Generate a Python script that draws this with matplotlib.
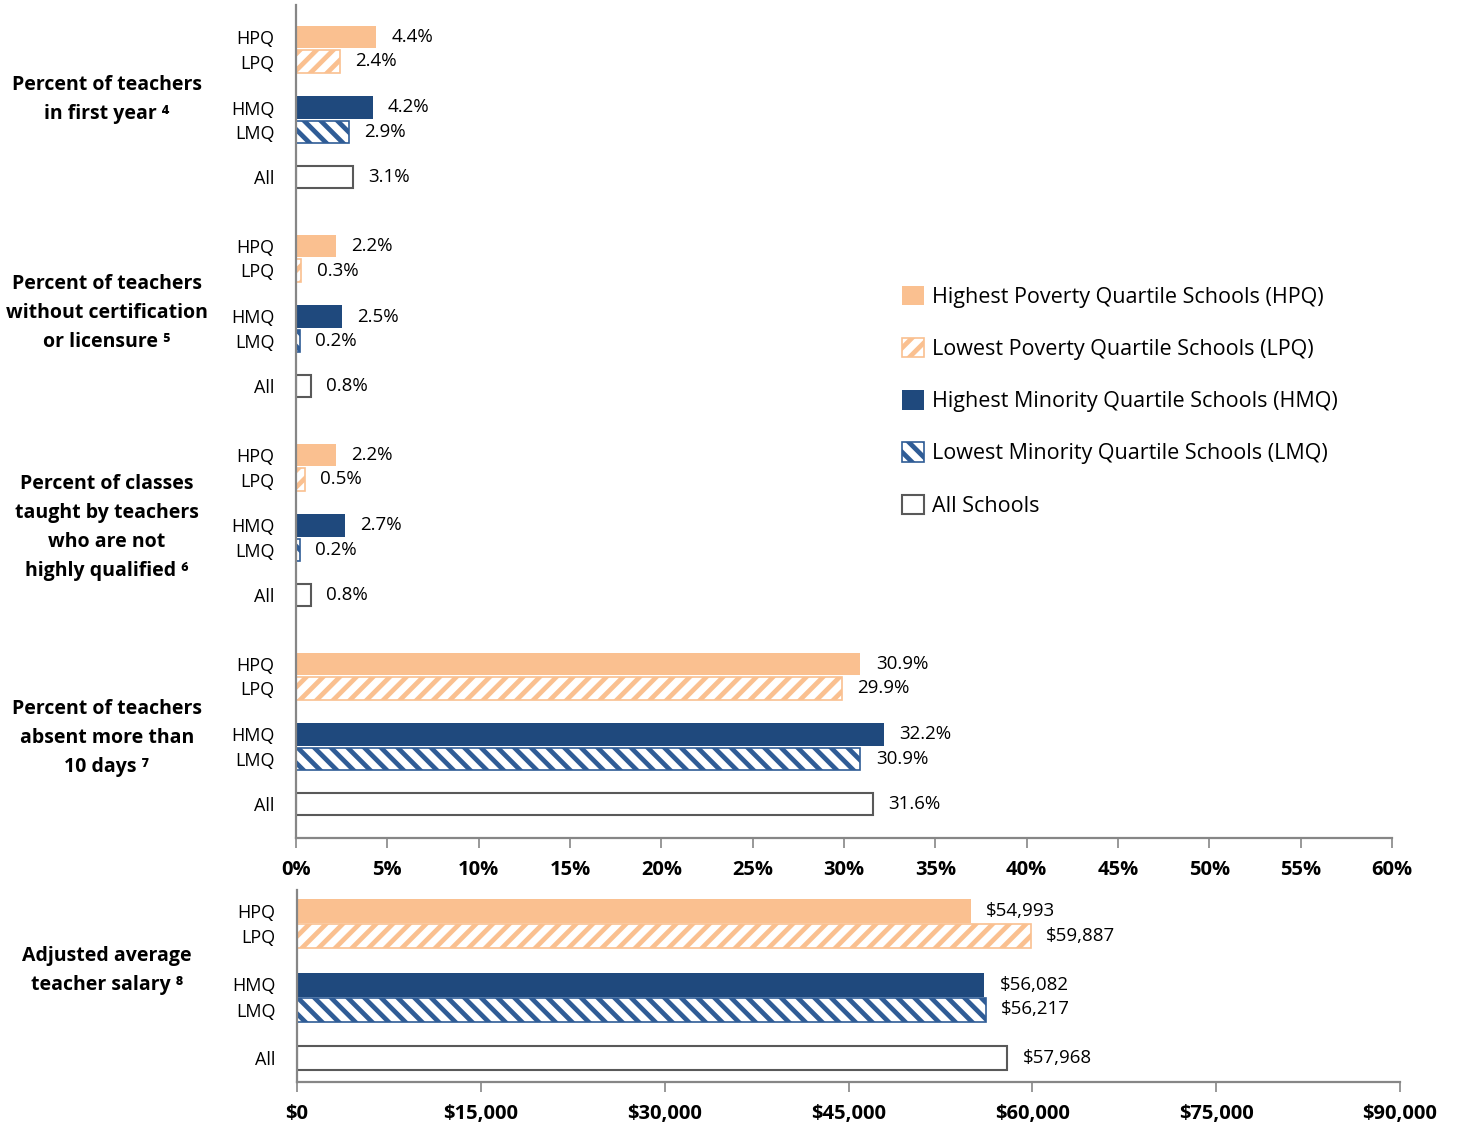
import numpy as np
import matplotlib
matplotlib.use('Agg')
import matplotlib.pyplot as plt
from matplotlib.patches import Patch

plt.rcParams['font.family'] = ['Open Sans', 'DejaVu Sans']
plt.rcParams['hatch.linewidth'] = 3.4

# data
cats = ['HPQ', 'LPQ', 'HMQ', 'LMQ', 'All']
group_titles = ['Percent of teachers\nin first year \u2074',
                'Percent of teachers\nwithout certification\nor licensure \u2075',
                'Percent of classes\ntaught by teachers\nwho are not\nhighly qualified \u2076',
                'Percent of teachers\nabsent more than\n10 days \u2077']
pct_values = [[4.4, 2.4, 4.2, 2.9, 3.1],
              [2.2, 0.3, 2.5, 0.2, 0.8],
              [2.2, 0.5, 2.7, 0.2, 0.8],
              [30.9, 29.9, 32.2, 30.9, 31.6]]
salary_title = 'Adjusted average\nteacher salary \u2078'
salary_values = [54993, 59887, 56082, 56217, 57968]
legend_labels = ['Highest Poverty Quartile Schools (HPQ)',
                 'Lowest Poverty Quartile Schools (LPQ)',
                 'Highest Minority Quartile Schools (HMQ)',
                 'Lowest Minority Quartile Schools (LMQ)',
                 'All Schools']

orange = '#FAC090'
navy = '#1F497D'
blue = '#2F5C96'
gray = '#595959'
spine = '#868686'

styles = [dict(facecolor=orange, edgecolor=orange, linewidth=0),
          dict(facecolor='white', edgecolor=orange, hatch='//', linewidth=1.2),
          dict(facecolor=navy, edgecolor=navy, linewidth=0),
          dict(facecolor='white', edgecolor=blue, hatch='\\\\', linewidth=1.2),
          dict(facecolor='white', edgecolor=gray, linewidth=1.5)]

W, H = 1458, 1126
fig = plt.figure(figsize=(W / 100, H / 100), dpi=100)

def fr(x0, x1, y0, y1):
    return [x0 / W, 1 - y1 / H, (x1 - x0) / W, (y1 - y0) / H]

ax1 = fig.add_axes(fr(296, 1392, 5, 838))
ax2 = fig.add_axes(fr(297, 1400, 890, 1082))

def style_axis(ax):
    for s in ['top', 'right']:
        ax.spines[s].set_visible(False)
    for s in ['left', 'bottom']:
        ax.spines[s].set_color(spine)
        ax.spines[s].set_linewidth(1.6)
    ax.tick_params(axis='x', direction='out', length=7, width=1.2, color=spine,
                   pad=9, labelsize=14.5)
    ax.tick_params(axis='y', length=0, pad=15.5, labelsize=13)
    for t in ax.get_xticklabels():
        t.set_fontweight('bold')

# top panel (pixel-like layout units)
offsets = np.array([0, 24.5, 70.5, 95, 140])
group_starts = [37, 246, 455, 664]
title_shift = [-7, -3, 3, 4]
bar_h = 22.5
yt, yl = [], []
for g, vals in enumerate(pct_values):
    ys = group_starts[g] + offsets
    for i, (y, v) in enumerate(zip(ys, vals)):
        ax1.barh(y, v, height=bar_h, **styles[i])
        ax1.annotate(f'{v:.1f}%', (v, y), xytext=(11, 0), textcoords='offset points',
                     va='center', ha='left', fontsize=13.5)
        yt.append(y)
        yl.append(cats[i])
    ax1.text(-0.1725, (ys[0] + ys[-1]) / 2 + title_shift[g], group_titles[g],
             transform=ax1.get_yaxis_transform(),
             ha='center', va='center', fontsize=14, fontweight='bold', linespacing=1.6)
ax1.set_xlim(0, 60)
ax1.set_ylim(838, 5)
ax1.set_xticks(np.arange(0, 61, 5))
ax1.set_xticklabels([f'{t}%' for t in range(0, 61, 5)])
ax1.set_yticks(yt)
ax1.set_yticklabels(yl)
style_axis(ax1)

# salary panel
s_offsets = np.array([0, 25, 73.5, 98.5, 147])
ys = 911 + s_offsets
for i, (y, v) in enumerate(zip(ys, salary_values)):
    ax2.barh(y, v, height=24, **styles[i])
    ax2.annotate(f'${v:,}', (v, y), xytext=(11, 0), textcoords='offset points',
                 va='center', ha='left', fontsize=13.5)
ax2.text(-0.172, (ys[0] + ys[-1]) / 2 - 14, salary_title, transform=ax2.get_yaxis_transform(),
         ha='center', va='center', fontsize=14, fontweight='bold', linespacing=1.6)
ax2.set_xlim(0, 90000)
ax2.set_ylim(1082, 890)
ax2.set_xticks(np.arange(0, 90001, 15000))
ax2.set_xticklabels([f'${t:,}' for t in range(0, 90001, 15000)])
ax2.set_yticks(ys)
ax2.set_yticklabels(cats)
style_axis(ax2)

handles = [Patch(**st) for st in styles]
fig.legend(handles, legend_labels, loc='upper left', bbox_to_anchor=(902 / W, 1 - 286 / H),
           frameon=False, fontsize=15.5, handlelength=1.0, handleheight=1.0,
           handletextpad=0.4, labelspacing=1.4, borderpad=0, borderaxespad=0)

fig.savefig('out.png', dpi=100)
